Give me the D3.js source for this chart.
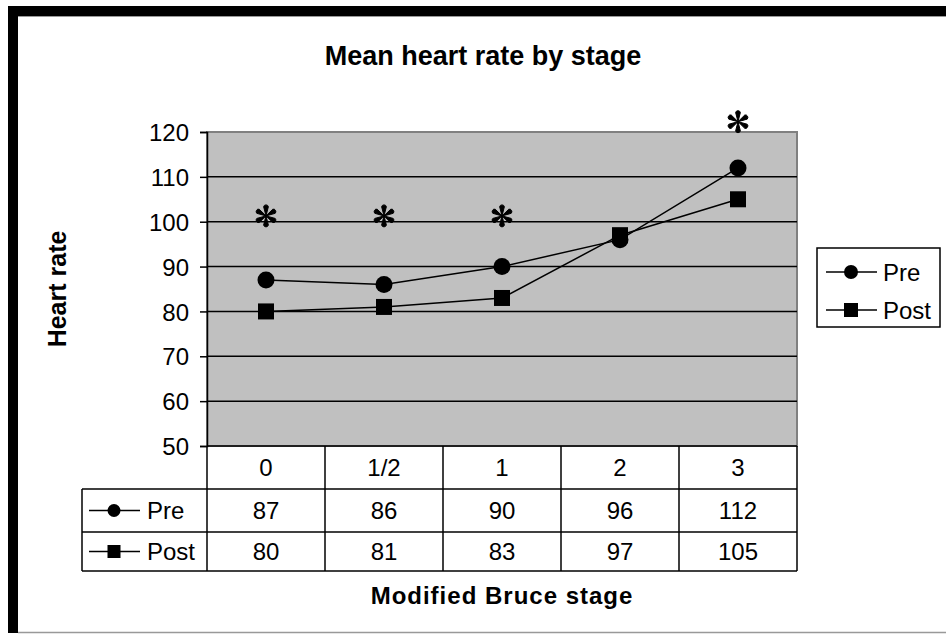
<!DOCTYPE html>
<html>
<head>
<meta charset="utf-8">
<script src="https://cdn.jsdelivr.net/npm/d3@7"></script>
<style>
  body { margin: 0; background: #fff; }
  svg text { font-family: "Liberation Sans", Arial, sans-serif; fill: #000; }
</style>
</head>
<body>
<div id="chart"></div>
<script>
// data
var stages = ["0", "1/2", "1", "2", "3"];
var preValues = [87, 86, 90, 96, 112];
var postValues = [80, 81, 83, 97, 105];
var seriesNames = ["Pre", "Post"];
var yTicks = [50, 60, 70, 80, 90, 100, 110, 120];
// significance marks: stage and the height they sit at
var starStages = ["0", "1/2", "1", "3"];
var starValues = [101.3, 101.3, 101.3, 122.3];

var width = 946, height = 634;
var plot = {left: 207, right: 797, top: 132, bottom: 446};
var rowH = [43, 43, 39];
var labelColLeft = 82;
var textSize = "24px";

var svg = d3.select("#chart").append("svg")
    .attr("width", width)
    .attr("height", height);

// frame: heavy top + left band, thin grey edges
svg.append("rect").attr("x", 8).attr("y", 6).attr("width", width - 8).attr("height", 10).style("fill", "#000");
svg.append("rect").attr("x", 8).attr("y", 6).attr("width", 10).attr("height", 627).style("fill", "#000");
svg.append("line").attr("x1", 18).attr("x2", width).attr("y1", 16.5).attr("y2", 16.5).style("stroke", "#999").style("stroke-width", 1);
svg.append("line").attr("x1", 18).attr("x2", width).attr("y1", 632.5).attr("y2", 632.5).style("stroke", "#999").style("stroke-width", 1.5);

var xScale = d3.scaleBand()
    .domain(stages)
    .range([plot.left, plot.right])
    .padding(0);

var yScale = d3.scaleLinear()
    .domain([50, 120])
    .range([plot.bottom, plot.top]);

var xc = function(s) { return xScale(s) + xScale.bandwidth() / 2; };

// plot area
svg.append("rect")
    .attr("x", plot.left)
    .attr("y", plot.top)
    .attr("width", plot.right - plot.left)
    .attr("height", plot.bottom - plot.top)
    .style("fill", "#c0c0c0")
    .style("stroke", "#808080")
    .style("stroke-width", 2);

svg.selectAll(".grid")
    .data(yTicks.filter(function(d) { return d > 50 && d < 120; }))
    .enter()
    .append("line")
        .attr("class", "grid")
        .attr("x1", plot.left)
        .attr("x2", plot.right)
        .attr("y1", function(d) { return yScale(d); })
        .attr("y2", function(d) { return yScale(d); })
        .style("stroke", "#000")
        .style("stroke-width", 1.5);

// y axis
var yAxis = d3.axisLeft(yScale)
    .tickValues(yTicks)
    .tickSize(7)
    .tickPadding(11);

var yg = svg.append("g")
    .attr("transform", "translate(" + plot.left + ",0)")
    .call(yAxis);
yg.select(".domain").style("stroke", "#000").style("stroke-width", 1.5);
yg.selectAll(".tick line").style("stroke", "#000").style("stroke-width", 1.5);
yg.selectAll(".tick text")
    .style("font-family", '"Liberation Sans", Arial, sans-serif')
    .style("font-size", textSize)
    .attr("dy", "0.36em");

// series lines and markers
var series = [
    {name: seriesNames[0], values: preValues, shape: "circle"},
    {name: seriesNames[1], values: postValues, shape: "square"}
];

var line = d3.line()
    .x(function(d, i) { return xc(stages[i]); })
    .y(function(d) { return yScale(d); });

function drawMarker(g, shape, x, y, size) {
    if (shape === "circle") {
        g.append("circle").attr("cx", x).attr("cy", y).attr("r", size / 2).style("fill", "#000");
    } else {
        g.append("rect").attr("x", x - size / 2).attr("y", y - size / 2)
            .attr("width", size).attr("height", size).style("fill", "#000");
    }
}

series.forEach(function(s) {
    svg.append("path")
        .datum(s.values)
        .attr("d", line)
        .style("fill", "none")
        .style("stroke", "#000")
        .style("stroke-width", 1.5);
});
series.forEach(function(s) {
    var g = svg.append("g");
    s.values.forEach(function(v, i) {
        drawMarker(g, s.shape, xc(stages[i]), yScale(v), s.shape === "circle" ? 17 : 16);
    });
});

// teardrop asterisks
function starPath(cx, cy, r) {
    var p = d3.path(), n = 6, tip = 2.5;
    for (var k = 0; k < n; k++) {
        var a = -Math.PI / 2 + k * 2 * Math.PI / n;
        var ex = cx + (r - tip) * Math.cos(a), ey = cy + (r - tip) * Math.sin(a);
        var d = r - tip, t = Math.asin(tip / d);
        p.moveTo(cx, cy);
        p.lineTo(ex + tip * Math.cos(a - Math.PI / 2 + t), ey + tip * Math.sin(a - Math.PI / 2 + t));
        p.arc(ex, ey, tip, a - Math.PI / 2 + t, a + Math.PI / 2 - t);
        p.closePath();
    }
    return p.toString();
}
svg.selectAll(".star")
    .data(starStages)
    .enter()
    .append("path")
        .attr("class", "star")
        .attr("d", function(d, i) { return starPath(xc(d), yScale(starValues[i]), 11); })
        .style("fill", "#000")
        .style("stroke", "#000")
        .style("stroke-width", 1);

// data table
var tableTop = plot.bottom;
var rowY = [tableTop, tableTop + rowH[0], tableTop + rowH[0] + rowH[1], tableTop + rowH[0] + rowH[1] + rowH[2]];
var tg = svg.append("g").attr("class", "table");

// horizontal rules
tg.append("line").attr("x1", plot.left).attr("x2", plot.right).attr("y1", rowY[0]).attr("y2", rowY[0]);
tg.append("line").attr("x1", labelColLeft).attr("x2", plot.right).attr("y1", rowY[1]).attr("y2", rowY[1]);
tg.append("line").attr("x1", labelColLeft).attr("x2", plot.right).attr("y1", rowY[2]).attr("y2", rowY[2]);
tg.append("line").attr("x1", labelColLeft).attr("x2", plot.right).attr("y1", rowY[3]).attr("y2", rowY[3]);
// vertical rules
tg.append("line").attr("x1", labelColLeft).attr("x2", labelColLeft).attr("y1", rowY[1]).attr("y2", rowY[3]);
tg.selectAll(".vrule")
    .data(stages)
    .enter()
    .append("line")
        .attr("x1", function(d) { return xScale(d); })
        .attr("x2", function(d) { return xScale(d); })
        .attr("y1", rowY[0])
        .attr("y2", rowY[3]);
tg.append("line").attr("x1", plot.right).attr("x2", plot.right).attr("y1", rowY[0]).attr("y2", rowY[3]);
tg.selectAll("line").style("stroke", "#000").style("stroke-width", 1.5);

tg.selectAll(".hdr")
    .data(stages)
    .enter()
    .append("text")
        .attr("x", function(d) { return xc(d); })
        .attr("y", (rowY[0] + rowY[1]) / 2)
        .attr("dy", "0.36em")
        .attr("text-anchor", "middle")
        .style("font-size", textSize)
        .text(function(d) { return d; });

series.forEach(function(s, r) {
    var cy = (rowY[r + 1] + rowY[r + 2]) / 2;
    tg.selectAll(".val" + r)
        .data(s.values)
        .enter()
        .append("text")
            .attr("x", function(d, i) { return xc(stages[i]); })
            .attr("y", cy)
            .attr("dy", "0.36em")
            .attr("text-anchor", "middle")
            .style("font-size", textSize)
            .text(function(d) { return d; });
    // legend key inside the row label
    tg.append("line").attr("x1", 89).attr("x2", 140).attr("y1", cy).attr("y2", cy)
        .style("stroke", "#000").style("stroke-width", 1.5);
    drawMarker(tg, s.shape, 114, cy, 13);
    tg.append("text")
        .attr("x", 147)
        .attr("y", cy)
        .attr("dy", "0.36em")
        .style("font-size", textSize)
        .text(s.name);
});

// legend
var lg = svg.append("g");
lg.append("rect")
    .attr("x", 817).attr("y", 248).attr("width", 123).attr("height", 79)
    .style("fill", "#fff").style("stroke", "#000").style("stroke-width", 1.5);
series.forEach(function(s, i) {
    var ly = 272 + i * 38;
    lg.append("line").attr("x1", 826).attr("x2", 877).attr("y1", ly).attr("y2", ly)
        .style("stroke", "#000").style("stroke-width", 1.5);
    drawMarker(lg, s.shape, 851, ly, 14);
    lg.append("text")
        .attr("x", 883)
        .attr("y", ly)
        .attr("dy", "0.36em")
        .style("font-size", textSize)
        .text(s.name);
});

// titles
svg.append("text")
    .attr("x", 483)
    .attr("y", 65)
    .attr("text-anchor", "middle")
    .style("font-size", "27px")
    .style("font-weight", "bold")
    .text("Mean heart rate by stage");

svg.append("text")
    .attr("x", 502)
    .attr("y", 604)
    .attr("text-anchor", "middle")
    .style("font-size", "24px")
    .style("font-weight", "bold")
    .style("letter-spacing", "1px")
    .text("Modified Bruce stage");

svg.append("text")
    .attr("transform", "translate(66," + (plot.top + plot.bottom) / 2 + ") rotate(-90)")
    .attr("text-anchor", "middle")
    .style("font-size", "25px")
    .style("font-weight", "bold")
    .text("Heart rate");
</script>
</body>
</html>
